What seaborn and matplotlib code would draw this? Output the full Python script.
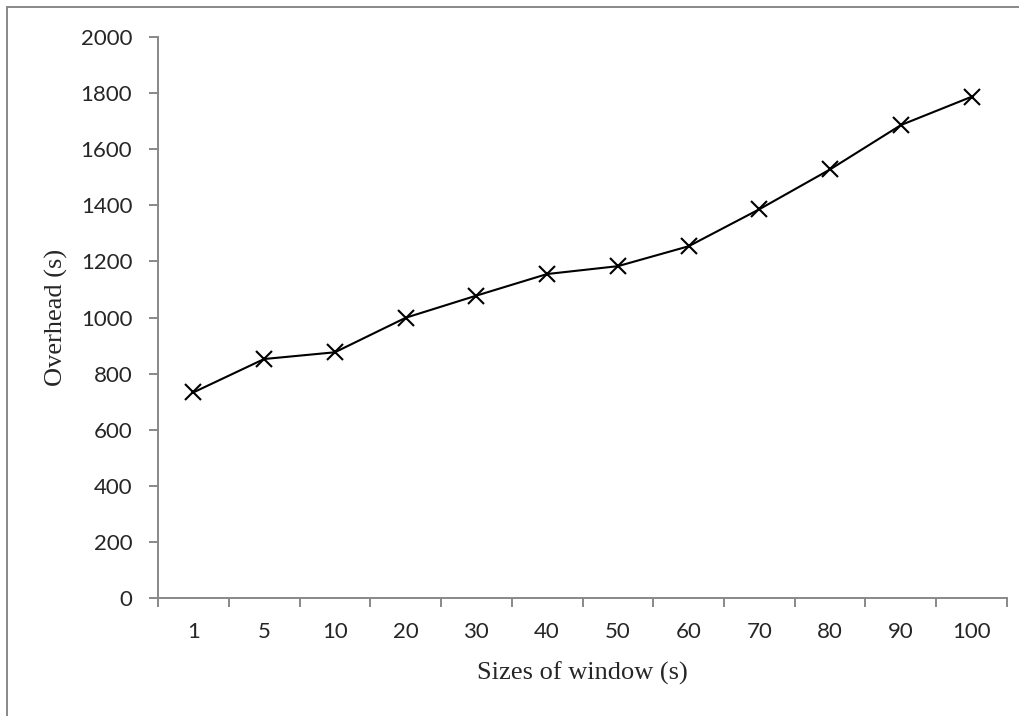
import matplotlib

matplotlib.use("Agg")
import matplotlib.pyplot as plt
import numpy as np
import pandas as pd
import seaborn as sns
from matplotlib.patches import Rectangle

# window sizes (s) and measured overhead (s)
window_sizes = ["1", "5", "10", "20", "30", "40", "50", "60", "70", "80", "90", "100"]
overhead = [733, 852, 876, 999, 1078, 1155, 1183, 1254, 1386, 1528, 1686, 1787]
y_ticks = list(range(0, 2001, 200))

GRAY = "#888888"

sns.set_style("white")
plt.rcParams["font.family"] = ["Lato", "DejaVu Sans"]

df = pd.DataFrame({"window": window_sizes, "overhead": overhead})

fig = plt.figure(figsize=(10.2, 7.16), dpi=100)
ax = fig.add_axes([158 / 1020, 1 - 598 / 716, 849 / 1020, 561 / 716])

sns.pointplot(data=df, x="window", y="overhead", order=window_sizes,
              color="black", marker="x", markersize=11, markeredgewidth=1.5,
              linewidth=1.5, ax=ax)

ax.set_ylim(0, 2000)
ax.set_yticks(y_ticks)
ax.set_xlim(-0.5, len(window_sizes) - 0.5)
ax.set_xticks(np.arange(-0.5, len(window_sizes), 1), minor=True)

for side in ["top", "right"]:
    ax.spines[side].set_visible(False)
for side in ["left", "bottom"]:
    ax.spines[side].set_color(GRAY)
    ax.spines[side].set_linewidth(1.4)

ax.tick_params(axis="y", which="major", length=6.5, width=1.4, color=GRAY,
               direction="out", pad=12, labelsize=16, left=True)
ax.tick_params(axis="x", which="major", length=0, pad=17, labelsize=16)
ax.tick_params(axis="x", which="minor", length=6.5, width=1.4, color=GRAY,
               direction="out", bottom=True)

ax.set_xlabel("Sizes of window (s)", family="Liberation Serif", fontsize=19)
ax.set_ylabel("Overhead (s)", family="Liberation Serif", fontsize=19)
ax.xaxis.set_label_coords(0.5, (598 - 673) / 561)
ax.xaxis.label.set_va("center")
ax.yaxis.set_label_coords((68 - 158) / 849, 0.5)

# chart-area border, like an exported office chart
fig.patches.append(Rectangle((7 / 1020, -0.1), 1.2, 1.1 - 7 / 716,
                             transform=fig.transFigure, fill=False,
                             edgecolor=GRAY, linewidth=1.4))

fig.savefig("out.png", dpi=100)
